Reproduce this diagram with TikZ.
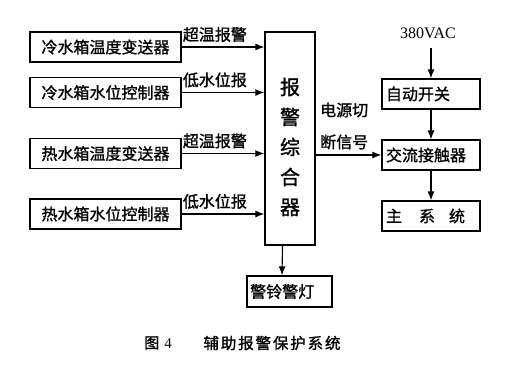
\documentclass[tikz,border=0pt]{standalone}
\usepackage{fontspec}
\setmainfont[FakeBold=1.2]{Noto Sans CJK SC}
\newfontfamily\latin{Liberation Serif}
\newfontfamily\capfont[LetterSpace=12,FakeBold=1.2]{Noto Sans CJK SC}
\usetikzlibrary{arrows.meta}
\begin{document}
\begin{tikzpicture}[x=1pt,y=1pt,
  box/.style={draw,line width=1.3pt,minimum height=30pt,inner sep=0pt,font=\fontsize{16}{18}\selectfont},
  lbox/.style={box,minimum width=151pt},
  rbox/.style={box,text width=90pt,align=left,inner xsep=4pt,minimum height=30pt},
  lab/.style={inner sep=1pt,font=\fontsize{16}{18}\selectfont},
  arr/.style={-{Latex[length=9pt,width=7pt]},line width=1.1pt}]
\useasboundingbox (0,0) rectangle (516,-372);
% left column
\node[lbox] (b1) at (105.5,-47) {冷水箱温度变送器};
\node[lbox] (b2) at (105.5,-92.5) {冷水箱水位控制器};
\node[lbox] (b3) at (105.5,-153.5) {热水箱温度变送器};
\node[lbox] (b4) at (105.5,-214) {热水箱水位控制器};
% alarm combiner
\node[draw,line width=1.3pt,minimum width=50pt,minimum height=213pt,inner sep=0pt] (al) at (290,-138.5) {};
\node[inner sep=0pt,align=center,font=\fontsize{20}{30}\selectfont] (alt) at (290,-147) {报\\警\\综\\合\\器};
% bell
\node[box,minimum width=85pt,minimum height=31pt] (bell) at (289.5,-291.5) {};
\node[lab,anchor=west] (bellt) at (249,-291.5) {警铃警灯};
% right column
\node[font=\latin\fontsize{16}{18}\selectfont,inner sep=1pt] (v) at (428,-33) {380VAC};
\node[rbox] (sw) at (431,-94) {自动开关};
\node[rbox] (ct) at (431,-155) {交流接触器};
\node[rbox] (ms) at (431,-216) {主\hspace{17pt}系\hspace{14pt}统};
% arrows
\foreach \b in {b1,b2,b3,b4} \draw[arr] (\b.east) -- (\b.east -| al.west);
\node[lab,anchor=south west] (l1) at ([yshift=4pt]b1.east) {超温报警};
\node[lab,anchor=south west] (l2) at ([yshift=4pt]b2.east) {低水位报};
\node[lab,anchor=south west] (l3) at ([yshift=4pt]b3.east) {超温报警};
\node[lab,anchor=south west] (l4) at ([yshift=4pt]b4.east) {低水位报};
\draw[arr] ([xshift=-7.5pt]al.south) -- ([xshift=-7.5pt]bell.north);
\draw[arr] (al.east |- ct.west) -- (ct.west);
\node[lab,anchor=west] (s1) at (319,-110) {电源切};
\node[lab,anchor=west] (s2) at (319,-142) {断信号};
\draw[arr] ([yshift=-8pt]v.south -| sw.north) -- (sw.north);
\draw[arr] (sw.south) -- (ct.north);
\draw[arr] (ct.south) -- (ms.north);
% caption
\node[inner sep=0pt,font=\fontsize{15}{18}\selectfont] (c1) at (158,-343) {图\hspace{5pt}{\latin 4}};
\node[inner sep=0pt,font=\capfont\fontsize{15.5}{18}\selectfont] (c2) at (272,-343) {辅助报警保护系统};
\end{tikzpicture}
\end{document}
